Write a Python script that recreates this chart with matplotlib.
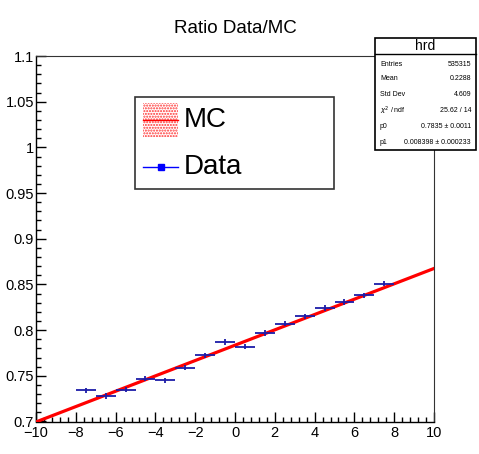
import matplotlib
matplotlib.use("Agg")
import matplotlib.pyplot as plt
import numpy as np
from matplotlib.lines import Line2D
from matplotlib.patches import Rectangle
from matplotlib.ticker import MultipleLocator, FuncFormatter

plt.rcParams['font.family'] = ['Liberation Sans', 'DejaVu Sans']
plt.rcParams['hatch.linewidth'] = 1.0

# Data
x_centers = [-7.5, -6.5, -5.5, -4.5, -3.5, -2.5, -1.5, -0.5, 0.5, 1.5, 2.5, 3.5, 4.5, 5.5, 6.5, 7.5]
ratio = [0.734, 0.728, 0.735, 0.747, 0.745, 0.759, 0.7725, 0.787, 0.782, 0.797, 0.807, 0.815, 0.824, 0.831, 0.838, 0.851]
ratio_err = [0.003] * len(ratio)
bin_half_width = [0.5] * len(ratio)
p0 = 0.7835
p1 = 0.008398
legend_labels = ["MC", "Data"]
stats_title = "hrd"
stats_labels = ["Entries", "Mean", "Std Dev", r"$\chi^2$ / ndf", "p0", "p1"]
stats_values = ["535315", "0.2288", "4.609", "25.62 / 14", "0.7835 \u00b1 0.0011", "0.008398 \u00b1 0.000233"]

W, H = 479, 454
fx = lambda px: px / W
fy = lambda py: 1 - py / H

fig = plt.figure(figsize=(W / 100, H / 100), dpi=100)
ax = fig.add_axes([fx(36), fy(421.5), (434 - 36) / W, (421.5 - 56) / H])

xfit = np.array([-10.0, 10.0])
ax.plot(xfit, p0 + p1 * xfit, color='#ff0000', lw=2.3, zorder=3)
ax.errorbar(x_centers, ratio, xerr=bin_half_width, yerr=ratio_err, fmt='none',
            ecolor='#1c1ca8', elinewidth=1.3, capsize=0, zorder=4)

ax.set_xlim(-10, 10)
ax.set_ylim(0.7, 1.1)
ax.xaxis.set_major_locator(MultipleLocator(2))
ax.xaxis.set_minor_locator(MultipleLocator(0.4))
ax.yaxis.set_major_locator(MultipleLocator(0.05))
ax.yaxis.set_minor_locator(MultipleLocator(0.01))
ax.yaxis.set_major_formatter(FuncFormatter(lambda v, p: "1" if abs(v - 1) < 1e-9 else f"{v:.2f}".rstrip('0').rstrip('.')))
ax.tick_params(which='both', direction='in', top=False, right=False, labelsize=10.5, width=1)
ax.tick_params(which='major', length=7)
ax.tick_params(which='minor', length=3.5)
ax.tick_params(axis='x', pad=3)
ax.tick_params(axis='y', pad=1.5)
for s in ax.spines.values():
    s.set_linewidth(1)
for s in ['top', 'right']:
    ax.spines[s].set_linewidth(0.8)
    ax.spines[s].set_color('#333333')

# Legend (drawn as a ROOT-style TLegend box)
lx0, lx1, ly0, ly1 = 135, 334, 97, 189
fig.patches.append(Rectangle((fx(lx0), fy(ly1)), (lx1 - lx0) / W, (ly1 - ly0) / H,
                             transform=fig.transFigure, facecolor='white', edgecolor='#333333', lw=1.2, zorder=20))
# MC entry
fig.patches.append(Rectangle((fx(143), fy(137)), 35 / W, 34 / H, transform=fig.transFigure,
                             facecolor='none', edgecolor='#ff3030', hatch='......', lw=0, zorder=21))
fig.lines.append(Line2D([fx(143), fx(178)], [fy(120), fy(120)], transform=fig.transFigure,
                        color='red', lw=1, zorder=22))
fig.text(fx(184), fy(120), legend_labels[0], ha='left', va='center', fontsize=20, zorder=22)
# Data entry
fig.lines.append(Line2D([fx(143), fx(178)], [fy(167), fy(167)], transform=fig.transFigure,
                        color='blue', lw=1, zorder=22))
fig.lines.append(Line2D([fx(160.5)], [fy(167)], transform=fig.transFigure, color='blue',
                        marker='s', markersize=5, lw=0, zorder=23))
fig.text(fx(184), fy(167), legend_labels[1], ha='left', va='center', fontsize=20, zorder=22)

# Title
fig.text(fx(235), fy(33), "Ratio Data/MC", ha='center', va='baseline', fontsize=13.5)

# Stats box
bx0, bx1, by0, by1, hy = 375, 476, 38, 150, 54
fig.patches.append(Rectangle((fx(bx0), fy(by1)), (bx1 - bx0) / W, (by1 - by0) / H,
                             transform=fig.transFigure, facecolor='white', edgecolor='black', lw=1.2, zorder=20))
fig.lines.append(Line2D([fx(bx0), fx(bx1)], [fy(hy), fy(hy)], transform=fig.transFigure,
                        color='black', lw=1, zorder=21))
fig.text(fx((bx0 + bx1) / 2), fy(46.5), stats_title, ha='center', va='center', fontsize=10, zorder=22)
row_y = [64, 79, 95, 111, 126.5, 142]
for lab, val, yy in zip(stats_labels, stats_values, row_y):
    fig.text(fx(bx0 + 5), fy(yy), lab, ha='left', va='center', fontsize=5, zorder=22)
    fig.text(fx(bx1 - 5), fy(yy), val, ha='right', va='center', fontsize=5, zorder=22)

fig.savefig("out.png", dpi=100)
